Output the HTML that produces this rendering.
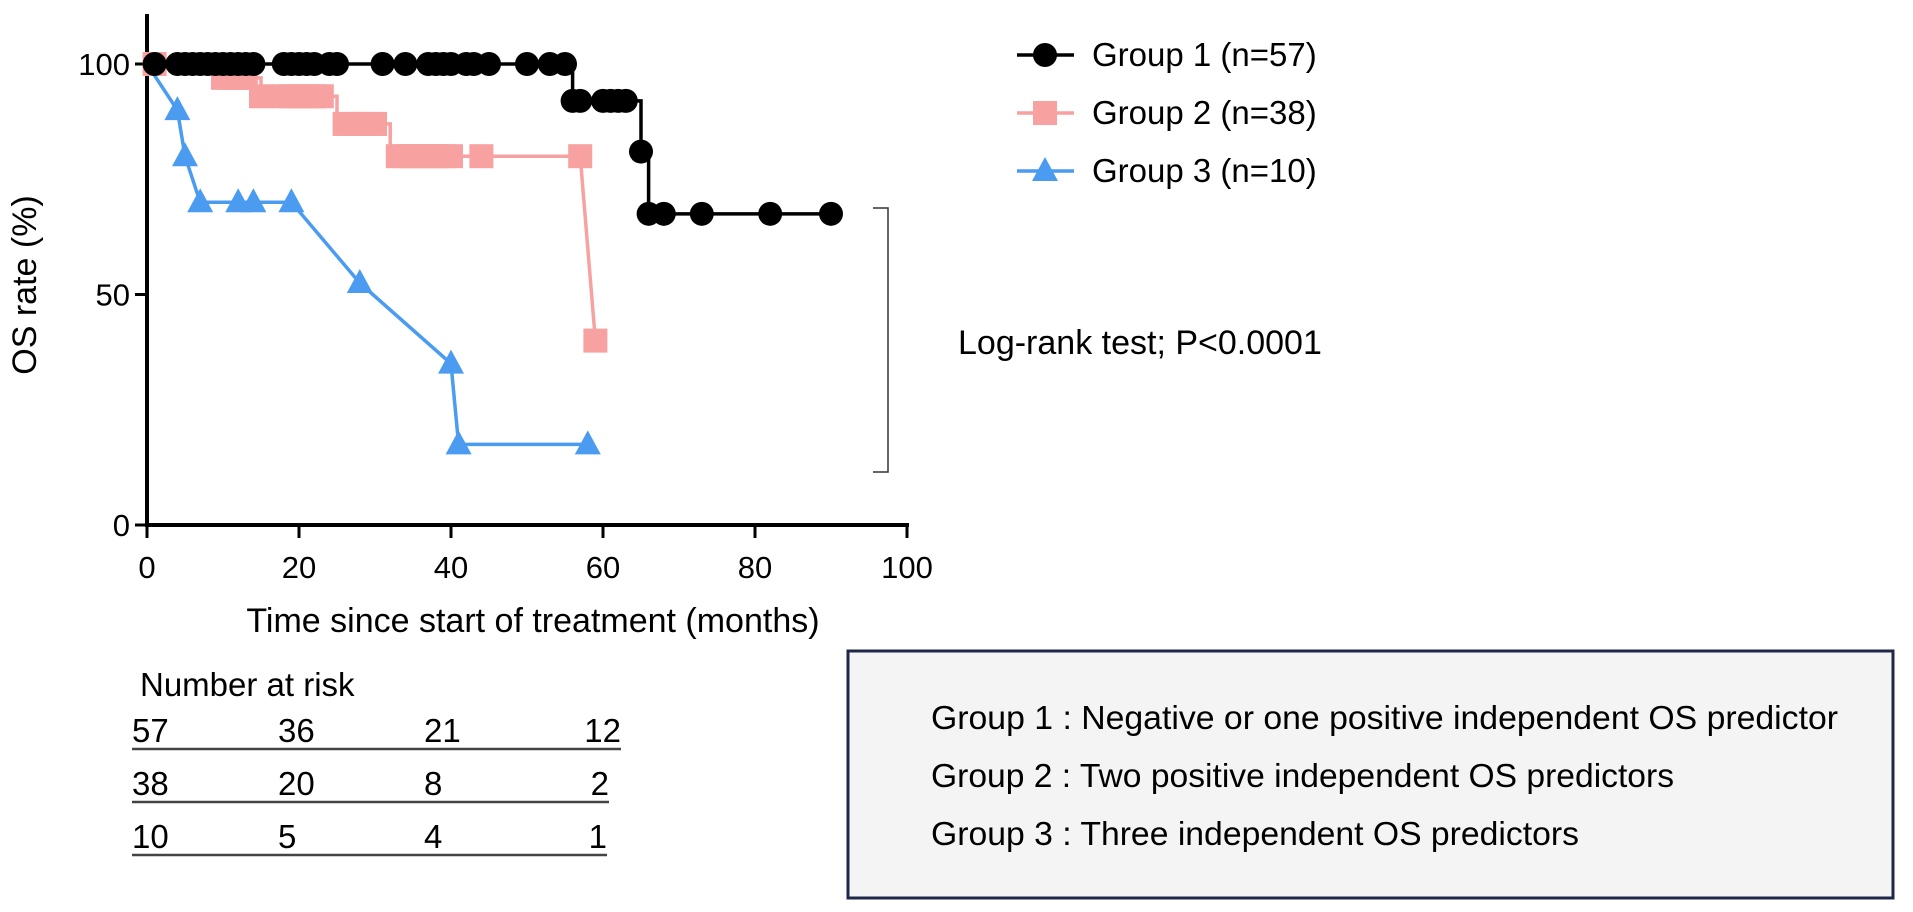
<!DOCTYPE html>
<html><head><meta charset="utf-8"><style>
body{margin:0;background:#fff;width:1913px;height:912px;overflow:hidden;font-family:"Liberation Sans",sans-serif}
svg{position:absolute;left:0;top:0}
</style></head><body>
<svg id="chart" width="1913" height="912"></svg>
<script>
const xTicks=[0,20,40,60,80,100];
const yTicks=[0,50,100];
const g1Steps=[[0,100],[56,92],[65,81],[66,67.5],[90,67.5]];
const g1Marks=[[1,100],[4,100],[5,100],[6,100],[7,100],[8,100],[9,100],[10,100],[11,100],[12,100],[13,100],[14,100],[18,100],[19,100],[20,100],[21,100],[22,100],[24,100],[25,100],[31,100],[34,100],[37,100],[38,100],[39,100],[40,100],[42,100],[43,100],[45,100],[50,100],[53,100],[55,100],[56,92],[57,92],[60,92],[61,92],[62,92],[63,92],[65,81],[66,67.5],[68,67.5],[73,67.5],[82,67.5],[90,67.5]];
const g2Steps=[[0,100],[10,97],[15,93],[25,87],[32,80],[57,80]];
const g2Marks=[[1,100],[10,97],[11,97],[12,97],[13,97],[15,93],[18,93],[19,93],[20,93],[21,93],[22,93],[23,93],[26,87],[27,87],[28,87],[29,87],[30,87],[33,80],[34,80],[35,80],[36,80],[37,80],[38,80],[39,80],[40,80],[44,80],[57,80],[59,40]];
const g3Pts=[[0,100],[4,90],[5,80],[7,70],[12,70],[14,70],[19,70],[28,52.5],[40,35],[41,17.5],[58,17.5]];
const legendLabels=["Group 1 (n=57)","Group 2 (n=38)","Group 3 (n=10)"];
const riskRows=[[57,36,21,12],[38,20,8,2],[10,5,4,1]];
const boxLines=["Group 1 : Negative or one positive independent OS predictor","Group 2 : Two positive independent OS predictors","Group 3 : Three independent OS predictors"];

const NS="http://www.w3.org/2000/svg",svg=document.getElementById('chart');
const X=v=>147+v*(907-147)/100, Y=v=>525-v*(525-64)/100;
function el(t,a,p){const e=document.createElementNS(NS,t);for(const k in a)e.setAttribute(k,a[k]);(p||svg).appendChild(e);return e;}
function txt(s,a){const e=el('text',a);e.textContent=s;return e;}
const BL='#000',PK='#f7a1a1',BU='#4b9cf0';
let e=el('line',{x1:147,y1:14,x2:147,y2:527,stroke:'#000','stroke-width':4});

e=el('line',{x1:145,y1:525,x2:909,y2:525,stroke:'#000','stroke-width':4});

xTicks.forEach(t=>{el('line',{x1:X(t),y1:525,x2:X(t),y2:538,stroke:'#000','stroke-width':3});
 e=txt(t,{x:X(t),y:578,'text-anchor':'middle','font-size':31});
 });
yTicks.forEach(t=>{el('line',{x1:135,y1:Y(t),x2:147,y2:Y(t),stroke:'#000','stroke-width':3});
 e=txt(t,{x:130,y:Y(t)+11,'text-anchor':'end','font-size':31});
 });
e=txt('OS rate (%)',{x:0,y:0,transform:'translate(36,285) rotate(-90)','text-anchor':'middle','font-size':34});

e=txt('Time since start of treatment (months)',{x:533,y:632,'text-anchor':'middle','font-size':34});

function stepPath(s){let d='M'+X(s[0][0])+','+Y(s[0][1]);for(let i=1;i<s.length;i++){d+=' H'+X(s[i][0])+' V'+Y(s[i][1]);}return d;}
function marker(type,x,y,c){
 if(type==='c')return el('circle',{cx:x,cy:y,r:12,fill:c});
 if(type==='s')return el('rect',{x:x-12,y:y-12,width:24,height:24,fill:c});
 return el('polygon',{points:`${x},${y-14} ${x-13},${y+10} ${x+13},${y+10}`,fill:c});}
e=el('path',{d:stepPath(g2Steps)+' L'+X(59)+','+Y(40),fill:'none',stroke:PK,'stroke-width':3.5});

g2Marks.forEach(p=>{e=marker('s',X(p[0]),Y(p[1]),PK);});
e=el('polyline',{points:g3Pts.map(p=>X(p[0])+','+Y(p[1])).join(' '),fill:'none',stroke:BU,'stroke-width':3.5});

g3Pts.slice(1).forEach(p=>{e=marker('t',X(p[0]),Y(p[1]),BU);});
e=el('path',{d:stepPath(g1Steps),fill:'none',stroke:BL,'stroke-width':3.5});

g1Marks.forEach(p=>{e=marker('c',X(p[0]),Y(p[1]),BL);});
e=el('path',{d:'M873,208 H888 V472 H873',fill:'none',stroke:'#333','stroke-width':1.5});

e=txt('Log-rank test; P<0.0001',{x:958,y:354,'font-size':34});

const cols=[BL,PK,BU],types=['c','s','t'];
legendLabels.forEach((l,i)=>{const y=55+i*58;
 el('line',{x1:1017,y1:y,x2:1074,y2:y,stroke:cols[i],'stroke-width':3.5});
 e=marker(types[i],1045,y,cols[i]);
 e=txt(l,{x:1092,y:y+11,'font-size':33});});
e=txt('Number at risk',{x:140,y:696,'font-size':33});

const colX=[132,278,424,575],lineEnd=[621,609,607];
riskRows.forEach((r,i)=>{const y=742+i*53;
 r.forEach((v,j)=>{e=txt(v,{x:j===3?lineEnd[i]:colX[j],y:y,'font-size':33,'text-anchor':j===3?'end':'start'});
  });
 e=el('line',{x1:132,y1:y+7,x2:lineEnd[i],y2:y+7,stroke:'#444','stroke-width':2.5});
 });
e=el('rect',{x:848,y:651,width:1045,height:247,fill:'#f4f4f4',stroke:'#1f2748','stroke-width':3});

boxLines.forEach((l,i)=>{e=txt(l,{x:931,y:729+i*58,'font-size':33,textLength:[907,743,648][i],lengthAdjust:'spacingAndGlyphs'});
 });
</script>
</body></html>
